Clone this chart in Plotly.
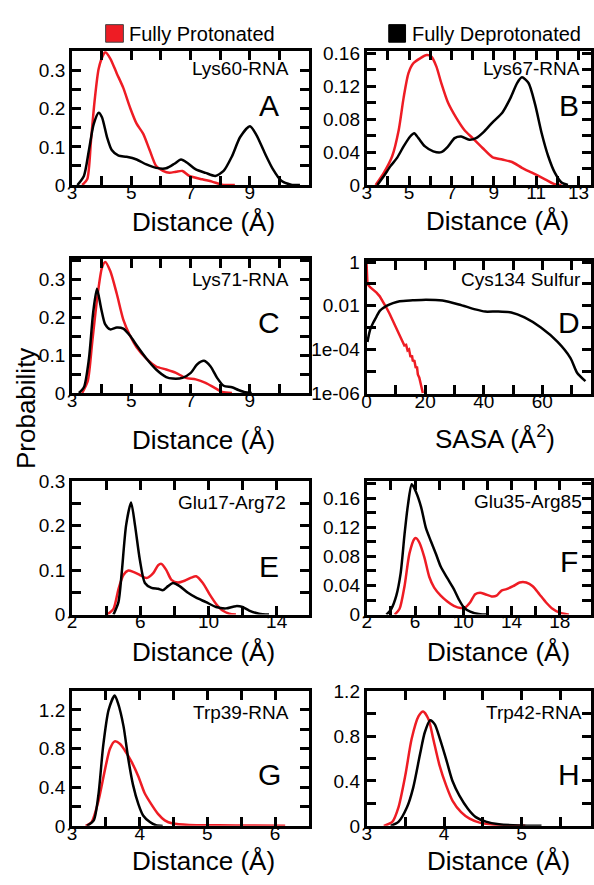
import numpy as np
import plotly.graph_objects as go

W, H = 594, 885
FONT = "Liberation Sans, Arial, Helvetica, sans-serif"
RED = "#ee1c24"
BLACK = "#000000"

# ---------------- data: probability distributions ----------------
# A: Lys60-RNA distance
lys60_prot_x = [3.34, 3.51, 3.64, 3.76, 3.9, 4.07, 4.12, 4.29, 4.51, 4.73, 4.96, 5.18, 5.4, 5.62, 5.84,
                6.07, 6.29, 6.51, 6.73, 6.96, 7.4, 7.73, 8.07, 8.5]
lys60_prot_y = [0.0, 0.015, 0.118, 0.22, 0.306, 0.344, 0.349, 0.332, 0.293, 0.255, 0.203, 0.161, 0.135,
                0.092, 0.05, 0.037, 0.032, 0.035, 0.037, 0.024, 0.015, 0.009, 0.001, 0.0]
lys60_dep_x = [3.18, 3.4, 3.57, 3.73, 3.9, 4.01, 4.18, 4.34, 4.57, 4.84, 5.18, 5.51, 5.84, 6.18, 6.46,
               6.68, 6.9, 7.18, 7.51, 7.84, 8.12, 8.4, 8.68, 9.01, 9.23, 9.51, 9.79, 10.07, 10.4, 10.7]
lys60_dep_y = [0.0, 0.024, 0.092, 0.16, 0.19, 0.178, 0.126, 0.092, 0.077, 0.074, 0.067, 0.054, 0.045,
               0.044, 0.056, 0.067, 0.058, 0.041, 0.032, 0.024, 0.037, 0.075, 0.126, 0.154, 0.131, 0.084,
               0.041, 0.011, 0.001, 0.0]

# B: Lys67-RNA distance
lys67_prot_x = [3.42, 3.81, 4.2, 4.51, 4.74, 4.97, 5.2, 5.52, 5.83, 6.06, 6.29, 6.52, 6.84, 7.22, 7.61,
                8.0, 8.47, 8.93, 9.4, 9.86, 10.33, 10.8, 11.42, 11.88, 12.2]
lys67_prot_y = [0.0, 0.015, 0.035, 0.067, 0.106, 0.136, 0.148, 0.154, 0.158, 0.156, 0.144, 0.124, 0.1,
                0.082, 0.067, 0.057, 0.045, 0.034, 0.031, 0.028, 0.021, 0.015, 0.007, 0.001, 0.0]
lys67_dep_x = [3.5, 3.81, 4.12, 4.43, 4.74, 5.05, 5.24, 5.44, 5.75, 6.14, 6.52, 6.84, 7.15, 7.46, 7.84,
               8.16, 8.54, 8.93, 9.4, 9.79, 10.1, 10.33, 10.64, 10.95, 11.26, 11.57, 11.88, 12.2, 12.5]
lys67_dep_y = [0.0, 0.011, 0.023, 0.033, 0.047, 0.059, 0.063, 0.057, 0.047, 0.041, 0.04, 0.047, 0.057,
               0.059, 0.055, 0.057, 0.065, 0.076, 0.088, 0.106, 0.124, 0.131, 0.124, 0.098, 0.063, 0.035,
               0.015, 0.003, 0.0]

# C: Lys71-RNA distance
lys71_prot_x = [3.34, 3.53, 3.68, 3.84, 4.01, 4.12, 4.29, 4.51, 4.73, 4.96, 5.18, 5.51, 5.84, 6.18, 6.51,
                6.84, 7.18, 7.51, 7.79, 8.07, 8.4]
lys71_prot_y = [0.0, 0.032, 0.134, 0.245, 0.331, 0.346, 0.322, 0.262, 0.194, 0.151, 0.121, 0.091, 0.07,
                0.062, 0.053, 0.04, 0.036, 0.027, 0.015, 0.003, 0.0]
lys71_dep_x = [3.23, 3.4, 3.57, 3.71, 3.84, 3.98, 4.12, 4.29, 4.51, 4.73, 4.96, 5.18, 5.51, 5.84, 6.18,
               6.4, 6.73, 7.01, 7.23, 7.46, 7.68, 7.9, 8.12, 8.4, 8.62, 8.84, 9.07]
lys71_dep_y = [0.0, 0.015, 0.091, 0.211, 0.275, 0.224, 0.181, 0.168, 0.173, 0.17, 0.151, 0.126, 0.091,
               0.062, 0.042, 0.038, 0.04, 0.053, 0.076, 0.085, 0.07, 0.04, 0.019, 0.015, 0.008, 0.002, 0.0]

# D: Cys134 sulfur SASA (log scale)
cys134_prot_x = [0.0, 0.3, 1.2, 2.3, 3.4, 4.5, 5.6, 6.8, 7.9, 9.0, 10.1, 11.3, 11.9, 12.4, 12.9, 13.5,
                 14.0, 14.5, 15.0, 15.5, 15.8, 16.3, 16.8, 17.2, 17.5, 18.0, 18.4, 18.8, 19.2]
cys134_prot_y = [0.83, 0.1, 0.071, 0.054, 0.04, 0.027, 0.016, 0.0081, 0.0042, 0.002, 0.001, 4.4e-4,
                 3.2e-4, 2.0e-4, 1.5e-4, 1.6e-4, 8.9e-5, 1.0e-4, 4.5e-5, 5.2e-5, 2.8e-5, 3.2e-5, 1.4e-5,
                 1.6e-5, 7.1e-6, 5.0e-6, 2.8e-6, 2.0e-6, 1.0e-6]
cys134_dep_x = [0.3, 1.2, 2.3, 3.4, 4.5, 6.8, 9.0, 11.3, 15.8, 20.3, 25.9, 31.5, 37.1, 40.5, 45.0, 49.4,
                53.9, 59.5, 65.2, 69.6, 71.9, 74.7]
cys134_dep_y = [2.2e-4, 7.9e-4, 1.7e-3, 3.2e-3, 5.8e-3, 9.8e-3, 0.0132, 0.0162, 0.0178, 0.019, 0.0174,
                0.0115, 0.0068, 0.0054, 0.0055, 0.0049, 0.0029, 0.001, 2.2e-4, 4.0e-5, 8.3e-6, 3.5e-6]

# E: Glu17-Arg72 distance
glu17_prot_x = [4.04, 4.43, 4.72, 5.01, 5.3, 5.59, 5.98, 6.37, 6.76, 7.05, 7.24, 7.53, 7.83, 8.21, 8.6,
                8.99, 9.28, 9.67, 10.06, 10.45, 10.83, 11.22, 11.61]
glu17_prot_y = [0.0, 0.013, 0.057, 0.089, 0.099, 0.096, 0.089, 0.082, 0.093, 0.111, 0.114, 0.1, 0.078,
                0.072, 0.076, 0.083, 0.086, 0.071, 0.046, 0.024, 0.009, 0.002, 0.0]
glu17_dep_x = [4.43, 4.72, 4.91, 5.17, 5.46, 5.69, 5.98, 6.27, 6.66, 7.05, 7.34, 7.63, 7.92, 8.31, 8.8,
               9.28, 9.86, 10.45, 11.03, 11.61, 12.0, 12.39, 12.97, 13.55]
glu17_dep_y = [0.0, 0.028, 0.093, 0.201, 0.252, 0.201, 0.122, 0.071, 0.06, 0.058, 0.055, 0.064, 0.071,
               0.064, 0.049, 0.038, 0.028, 0.017, 0.014, 0.019, 0.017, 0.009, 0.002, 0.0]

# F: Glu35-Arg85 distance
glu35_prot_x = [4.32, 4.72, 5.13, 5.54, 5.95, 6.09, 6.36, 6.77, 7.18, 7.59, 8.13, 8.68, 9.22, 9.77,
                10.17, 10.58, 10.99, 11.4, 11.81, 12.35, 12.76, 13.17, 13.58, 14.13, 14.67, 15.22, 15.76,
                16.31, 16.85, 17.4, 17.94, 18.76]
glu35_prot_y = [0.0, 0.008, 0.039, 0.084, 0.104, 0.105, 0.099, 0.079, 0.052, 0.037, 0.026, 0.018, 0.012,
                0.009, 0.01, 0.017, 0.028, 0.03, 0.028, 0.025, 0.026, 0.033, 0.035, 0.039, 0.044, 0.044,
                0.039, 0.028, 0.017, 0.008, 0.003, 0.0]
glu35_dep_x = [3.63, 4.04, 4.45, 4.81, 5.13, 5.41, 5.73, 6.09, 6.5, 6.9, 7.31, 7.72, 8.13, 8.68, 9.22,
               9.63, 10.04, 10.58, 11.4, 11.95]
glu35_dep_y = [0.0, 0.008, 0.026, 0.057, 0.11, 0.15, 0.179, 0.168, 0.148, 0.119, 0.101, 0.084, 0.066,
               0.05, 0.035, 0.021, 0.01, 0.004, 0.0004, 0.0]

# G: Trp39-RNA distance
trp39_prot_x = [3.2, 3.29, 3.39, 3.49, 3.56, 3.63, 3.71, 3.78, 3.88, 3.98, 4.07, 4.17, 4.27, 4.37, 4.49,
                4.73, 5.17, 5.66, 6.15]
trp39_prot_y = [0.0, 0.04, 0.259, 0.595, 0.797, 0.874, 0.847, 0.78, 0.662, 0.511, 0.343, 0.225, 0.124,
                0.057, 0.024, 0.01, 0.007, 0.003, 0.0]
trp39_dep_x = [3.22, 3.32, 3.39, 3.46, 3.54, 3.63, 3.68, 3.76, 3.83, 3.9, 3.98, 4.05, 4.15, 4.24, 4.34]
trp39_dep_y = [0.0, 0.057, 0.326, 0.83, 1.2, 1.35, 1.267, 1.032, 0.696, 0.427, 0.225, 0.108, 0.04, 0.007, 0.0]

# H: Trp42-RNA distance
trp42_prot_x = [3.22, 3.33, 3.41, 3.5, 3.58, 3.67, 3.73, 3.8, 3.86, 3.94, 4.03, 4.11, 4.22, 4.33, 4.46,
                4.63, 4.84, 5.05]
trp42_prot_y = [0.0, 0.035, 0.165, 0.455, 0.774, 0.977, 1.02, 0.948, 0.774, 0.542, 0.354, 0.223, 0.122,
                0.064, 0.029, 0.012, 0.003, 0.0]
trp42_dep_x = [3.31, 3.41, 3.52, 3.6, 3.69, 3.75, 3.82, 3.88, 3.94, 4.03, 4.11, 4.2, 4.31, 4.41, 4.54,
               4.71, 4.97, 5.26]
trp42_dep_y = [0.0, 0.035, 0.165, 0.339, 0.643, 0.832, 0.942, 0.904, 0.788, 0.586, 0.397, 0.267, 0.151,
               0.078, 0.038, 0.014, 0.003, 0.0]

# ---------------- tick labels ----------------
x_ticklabels = [
    [3, 5, 7, 9], [3, 5, 7, 9, 11, 13], [3, 5, 7, 9], [0, 20, 40, 60],
    [2, 6, 10, 14], [2, 6, 10, 14, 18], [3, 4, 5, 6], [3, 4, 5],
]
y_ticklabels = [
    [0, 0.1, 0.2, 0.3], [0, 0.04, 0.08, 0.12, 0.16], [0, 0.1, 0.2, 0.3], [1e-6, 1e-4, 1e-2, 1],
    [0, 0.1, 0.2, 0.3], [0, 0.04, 0.08, 0.12, 0.16], [0, 0.4, 0.8, 1.2], [0, 0.4, 0.8, 1.2],
]
log_ticktext = {1e-6: "1e-06", 1e-4: "1e-04", 1e-2: "0.01", 1: "1"}

panel_letters = ["A", "B", "C", "D", "E", "F", "G", "H"]
panel_names = ["Lys60-RNA", "Lys67-RNA", "Lys71-RNA", "Cys134 Sulfur",
               "Glu17-Arg72", "Glu35-Arg85", "Trp39-RNA", "Trp42-RNA"]
x_titles = ["Distance (Å)", "Distance (Å)", "Distance (Å)", "SASA (Å<sup>2</sup>)",
            "Distance (Å)", "Distance (Å)", "Distance (Å)", "Distance (Å)"]
series_names = ["Fully Protonated", "Fully Deprotonated"]

curves = [
    (lys60_prot_x, lys60_prot_y, lys60_dep_x, lys60_dep_y),
    (lys67_prot_x, lys67_prot_y, lys67_dep_x, lys67_dep_y),
    (lys71_prot_x, lys71_prot_y, lys71_dep_x, lys71_dep_y),
    (cys134_prot_x, cys134_prot_y, cys134_dep_x, cys134_dep_y),
    (glu17_prot_x, glu17_prot_y, glu17_dep_x, glu17_dep_y),
    (glu35_prot_x, glu35_prot_y, glu35_dep_x, glu35_dep_y),
    (trp39_prot_x, trp39_prot_y, trp39_dep_x, trp39_dep_y),
    (trp42_prot_x, trp42_prot_y, trp42_dep_x, trp42_dep_y),
]

# ---------------- panel grid (pixels) ----------------
# box: left, right, top, bottom; xs / ys: tick spacing including unlabelled ticks
panels = [
    dict(box=(68, 308, 42.3, 179.3), xr=[3, 11], xs=1, yr=[0, 0.351], ys=0.05),
    dict(box=(366.7, 594, 42.3, 179.3), xr=[3, 13.59], xs=1, yr=[0, 0.1626], ys=0.02),
    dict(box=(68, 308, 255, 392.3), xr=[3, 11], xs=1, yr=[0, 0.354], ys=0.05),
    dict(box=(366.5, 594, 256.7, 393.3), xr=[0, 76.6], xs=10, yr=[-6.045, 0.07], ys=None),
    dict(box=(68, 308, 482.3, 619.3), xr=[2, 15.89], xs=2, yr=[0, 0.3005], ys=0.05),
    dict(box=(366.7, 594, 482.3, 619.3), xr=[2, 20.59], xs=2, yr=[0, 0.1836], ys=0.02),
    dict(box=(68, 308, 697.7, 835.7), xr=[3, 6.5], xs=0.5, yr=[0, 1.394], ys=0.2),
    dict(box=(366.7, 594, 697.7, 835.7), xr=[3, 5.9], xs=0.5, yr=[0, 1.2005], ys=0.2),
]
name_pos = [(290, 60), (585, 60), (290, 275.7), (585.7, 275.7),
            (287.3, 504.3), (587, 503.3), (290, 720), (587, 720)]
letter_pos = [(268, 98), (571.7, 98), (268, 320), (571.7, 320),
              (268, 570), (571.7, 565), (268, 783), (571.7, 783)]
title_pos = [(201.5, 217), (499, 216), (201, 440), (497, 438),
             (201, 658), (500, 658), (201, 871.7), (500, 871.7)]


def px(x):
    return x / W


def py(y):
    return 1 - y / H


def fmt(v):
    return "%g" % v


def linear_ticks(lo, hi, step, labelled):
    vals = np.arange(lo, hi + 1e-9, step)
    vals = [round(float(v), 6) for v in vals]
    text = [fmt(v) if any(abs(v - l) < 1e-9 for l in labelled) else "" for v in vals]
    return vals, text


TICK = dict(ticks="inside", ticklen=9, tickwidth=2.5, tickcolor=BLACK)
AXIS = dict(showline=True, linewidth=3, linecolor=BLACK, showgrid=False, zeroline=False,
            mirror="ticks", tickfont=dict(family=FONT, size=19, color=BLACK), tickmode="array", **TICK)

fig = go.Figure()
annotations = []
layout = {}

for i, (p, (rx, ry, bx, by)) in enumerate(zip(panels, curves)):
    n = "" if i == 0 else str(i + 1)
    xa, ya = "x" + n, "y" + n
    is_log = p["ys"] is None

    fig.add_trace(go.Scatter(x=rx, y=ry, xaxis=xa, yaxis=ya, mode="lines", name=series_names[0],
                             showlegend=False,
                             line=dict(color=RED, width=2.5,
                                       shape="linear" if is_log else "spline", smoothing=0.7)))
    fig.add_trace(go.Scatter(x=bx, y=by, xaxis=xa, yaxis=ya, mode="lines", name=series_names[1],
                             showlegend=False,
                             line=dict(color=BLACK, width=2.5, shape="spline", smoothing=0.7)))

    left, right, top, bottom = p["box"]
    xv, xt = linear_ticks(p["xr"][0], p["xr"][1] - 0.3 * p["xs"], p["xs"], x_ticklabels[i])
    xaxis = dict(AXIS, domain=[px(left), px(right)], range=p["xr"], anchor=ya,
                 tickvals=xv, ticktext=xt, ticklabelstandoff=-12)
    if is_log:
        yv = [1e-6, 1e-5, 1e-4, 1e-3, 1e-2, 1e-1, 1]
        yt = [log_ticktext.get(v, "") for v in yv]
        yaxis = dict(AXIS, type="log", range=p["yr"])
    else:
        yv, yt = linear_ticks(p["yr"][0], p["yr"][1], p["ys"], y_ticklabels[i])
        yaxis = dict(AXIS, range=p["yr"])
    yaxis.update(domain=[py(bottom), py(top)], anchor=xa, tickvals=yv, ticktext=yt)
    layout["xaxis" + n] = xaxis
    layout["yaxis" + n] = yaxis

    nx, ny = name_pos[i]
    annotations.append(dict(text=panel_names[i], x=px(nx), y=py(ny), xref="paper", yref="paper",
                            xanchor="right", yanchor="middle", showarrow=False,
                            font=dict(family=FONT, size=19, color=BLACK)))
    lx, ly = letter_pos[i]
    annotations.append(dict(text=panel_letters[i], x=px(lx), y=py(ly), xref="paper", yref="paper",
                            xanchor="center", yanchor="middle", showarrow=False,
                            font=dict(family=FONT, size=30, color=BLACK)))
    tx, ty = title_pos[i]
    annotations.append(dict(text=x_titles[i], x=px(tx), y=py(ty), xref="paper", yref="paper",
                            xanchor="center", yanchor="middle", showarrow=False,
                            font=dict(family=FONT, size=26, color=BLACK)))

# shared y-axis title
annotations.append(dict(text="Probability", x=px(22), y=py(408), xref="paper", yref="paper",
                        xanchor="center", yanchor="middle", textangle=-90, showarrow=False,
                        font=dict(family=FONT, size=26, color=BLACK)))

# legend: colour swatches with labels above the two columns
shapes = [
    dict(type="rect", xref="paper", yref="paper", x0=px(102), x1=px(120), y0=py(33), y1=py(15),
         fillcolor=RED, line=dict(color="#444444", width=1)),
    dict(type="rect", xref="paper", yref="paper", x0=px(389), x1=px(406), y0=py(33), y1=py(15),
         fillcolor=BLACK, line=dict(color=BLACK, width=1)),
]
annotations.append(dict(text=series_names[0], x=px(124), y=py(25), xref="paper", yref="paper",
                        xanchor="left", yanchor="middle", showarrow=False,
                        font=dict(family=FONT, size=20, color=BLACK)))
annotations.append(dict(text=series_names[1], x=px(411), y=py(25), xref="paper", yref="paper",
                        xanchor="left", yanchor="middle", showarrow=False,
                        font=dict(family=FONT, size=20, color=BLACK)))

fig.update_layout(
    width=W, height=H,
    margin=dict(l=0, r=0, t=0, b=0),
    paper_bgcolor="white", plot_bgcolor="white",
    font=dict(family=FONT, color=BLACK),
    annotations=annotations, shapes=shapes,
    showlegend=False,
    **layout,
)

fig.write_html("out.html")
